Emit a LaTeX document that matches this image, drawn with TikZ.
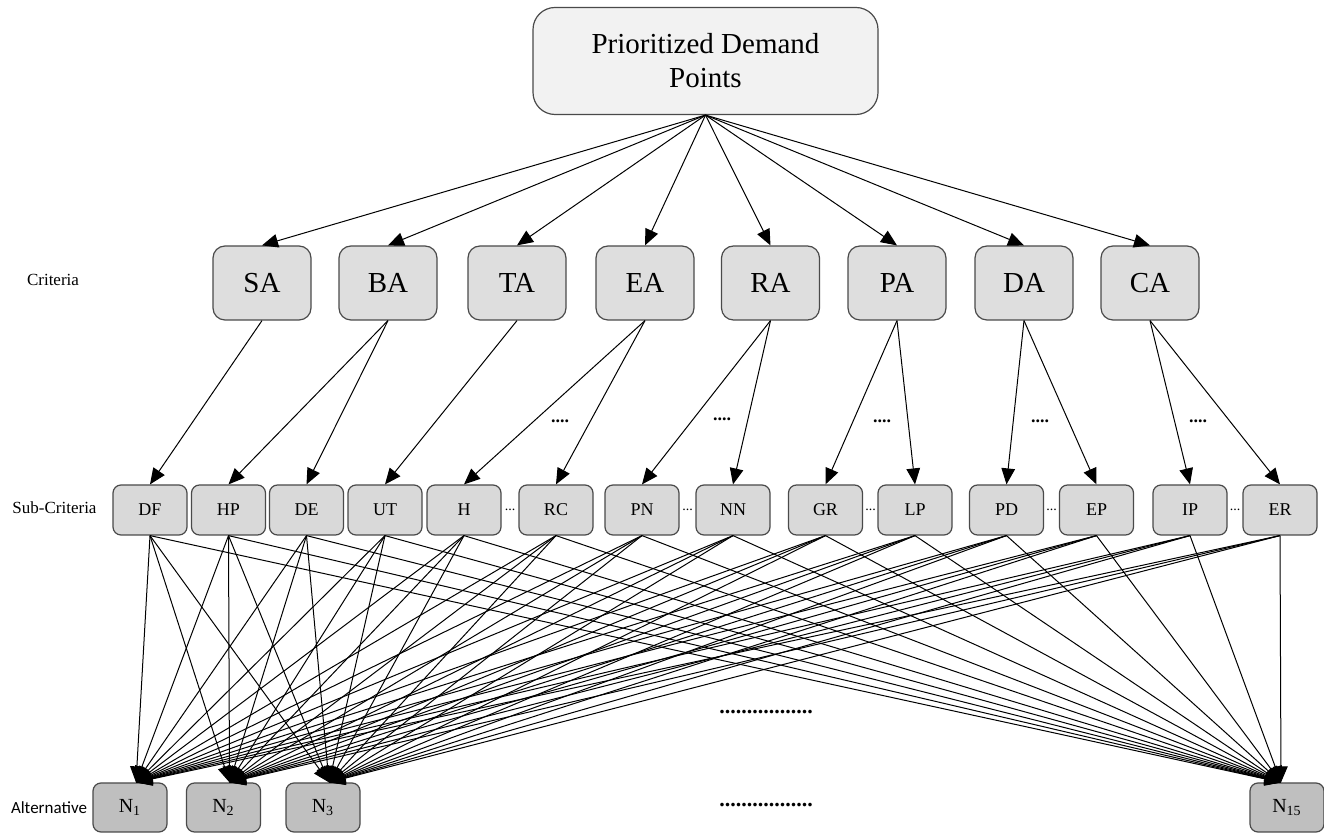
\documentclass[tikz,border=0pt]{standalone}
\usepackage{fontspec}
\setmainfont{Liberation Serif}
\newfontfamily\calibrifont{Carlito}
\usetikzlibrary{arrows.meta,calc}
\definecolor{topfill}{HTML}{F2F2F2}
\definecolor{critfill}{HTML}{DEDEDE}
\definecolor{subfill}{HTML}{D9D9D9}
\definecolor{altfill}{HTML}{BFBFBF}
\definecolor{edgecol}{HTML}{4A4A4A}
\begin{document}
\begin{tikzpicture}[x=0.5pt,y=-0.5pt,
  basebox/.style={draw=edgecol, line width=0.6pt, inner sep=0pt, align=center},
  topbox/.style={basebox, fill=topfill, rounded corners=11pt, minimum width=172.5pt, minimum height=53.5pt, font=\fontsize{14.5}{17}\selectfont},
  critbox/.style={basebox, fill=critfill, rounded corners=6pt, minimum width=49pt, minimum height=37pt, font=\fontsize{14.5}{17}\selectfont},
  subbox/.style={basebox, fill=subfill, rounded corners=4pt, minimum width=37pt, minimum height=25pt, font=\fontsize{9}{11}\selectfont},
  altbox/.style={basebox, fill=altfill, rounded corners=4pt, minimum width=37pt, minimum height=24.5pt, font=\fontsize{10}{12}\selectfont},
  rowlabel/.style={inner sep=0pt, font=\fontsize{8.5}{10}\selectfont},
  dotlabel/.style={inner sep=0pt, font=\bfseries\fontsize{9}{10}\selectfont},
  smalldots/.style={inner sep=0pt, font=\fontsize{7}{8}\selectfont},
  bigdots/.style={inner sep=0pt, font=\bfseries\fontsize{11}{12}\selectfont},
  arr/.style={-{Triangle[length=8pt,width=6.8pt]}, line width=0.5pt, black}
]
\useasboundingbox (0,0) rectangle (1324,833);

% top node
\node[topbox] (top) at (705.5,61) {Prioritized Demand\\Points};

% criteria
\node[critbox] (SA) at (262,283) {SA};
\node[critbox] (BA) at (388,283) {BA};
\node[critbox] (TA) at (517,283) {TA};
\node[critbox] (EA) at (645,283) {EA};
\node[critbox] (RA) at (770.5,283) {RA};
\node[critbox] (PA) at (897,283) {PA};
\node[critbox] (DA) at (1024,283) {DA};
\node[critbox] (CA) at (1150,283) {CA};

% sub-criteria
\node[subbox] (DF) at (150,510) {DF};
\node[subbox] (HP) at (228.5,510) {HP};
\node[subbox] (DE) at (306.5,510) {DE};
\node[subbox] (UT) at (385,510) {UT};
\node[subbox] (H)  at (464,510) {H};
\node[subbox] (RC) at (556,510) {RC};
\node[subbox] (PN) at (642,510) {PN};
\node[subbox] (NN) at (733,510) {NN};
\node[subbox] (GR) at (825.5,510) {GR};
\node[subbox] (LP) at (915,510) {LP};
\node[subbox] (PD) at (1006.5,510) {PD};
\node[subbox] (EP) at (1096.5,510) {EP};
\node[subbox] (IP) at (1190,510) {IP};
\node[subbox] (ER) at (1280,510) {ER};

% alternatives
\node[altbox] (N1)  at (130,807.5) {N\textsubscript{1}};
\node[altbox] (N2)  at (223.5,807.5) {N\textsubscript{2}};
\node[altbox] (N3)  at (323,807.5) {N\textsubscript{3}};
\node[altbox] (N15) at (1287,807.5) {N\textsubscript{15}};

% arrow targets on the alternatives
\coordinate (t1) at ($(N1.north)+(6,0)$);
\coordinate (t2) at ($(N2.north)+(6,0)$);
\coordinate (t3) at ($(N3.north)+(6,0)$);
\coordinate (t15) at ($(N15.north)+(-6,0)$);

% row labels
\node[rowlabel] (lcrit) at (53,280) {Criteria};
\node[rowlabel] (lsub) at (54.5,508) {Sub-Criteria};
\node[rowlabel, font=\calibrifont\fontsize{8.5}{10}\selectfont] (lalt) at (49,808) {Alternative};

% dots
\node[dotlabel] (d1) at (560,421) {....};
\node[dotlabel] (d2) at (722,419) {....};
\node[dotlabel] (d3) at (882,421) {....};
\node[dotlabel] (d4) at (1040,421) {....};
\node[dotlabel] (d5) at (1198,421) {....};
\node[smalldots] (s1) at (510,510) {...};
\node[smalldots] (s2) at (687.5,510) {...};
\node[smalldots] (s3) at (870.5,510) {...};
\node[smalldots] (s4) at (1051.5,510) {...};
\node[smalldots] (s5) at (1235,510) {...};
\node[bigdots] (b1) at (766,712) {.................};
\node[bigdots] (b2) at (766,805) {.................};

% top to criteria
\foreach \c in {SA,BA,TA,EA,RA,PA,DA,CA}
  \draw[arr] (top.south) -- (\c.north);

% criteria to sub-criteria
\draw[arr] (SA.south) -- (DF.north);
\draw[arr] (BA.south) -- (HP.north);
\draw[arr] (BA.south) -- (DE.north);
\draw[arr] (TA.south) -- (UT.north);
\draw[arr] (EA.south) -- (H.north);
\draw[arr] (EA.south) -- (RC.north);
\draw[arr] (RA.south) -- (PN.north);
\draw[arr] (RA.south) -- (NN.north);
\draw[arr] (PA.south) -- (GR.north);
\draw[arr] (PA.south) -- (LP.north);
\draw[arr] (DA.south) -- (PD.north);
\draw[arr] (DA.south) -- (EP.north);
\draw[arr] (CA.south) -- (IP.north);
\draw[arr] (CA.south) -- (ER.north);

% sub-criteria to alternatives
\foreach \s in {DF,HP,DE,UT,H,RC,PN,NN,GR,LP,PD,EP,IP,ER}
  \foreach \a in {1,2,3,15}
    \draw[arr] (\s.south) -- (t\a);
\end{tikzpicture}
\end{document}
